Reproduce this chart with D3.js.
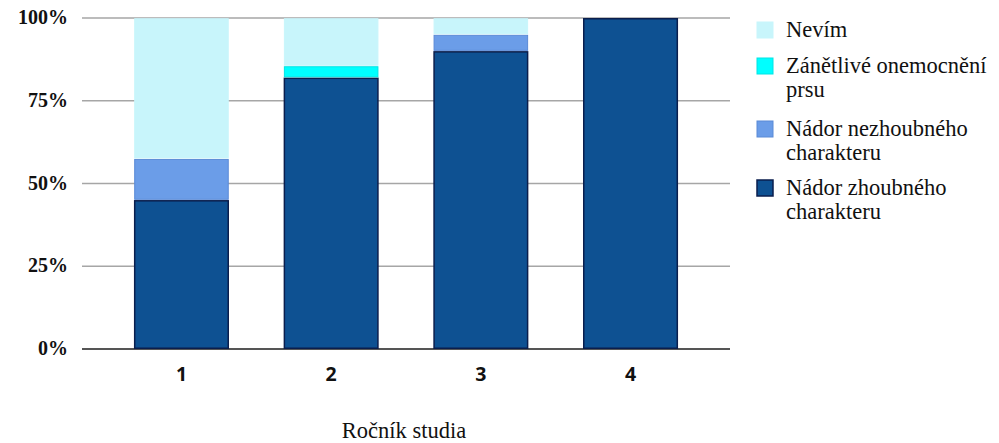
<!DOCTYPE html>
<html><head><meta charset="utf-8">
<script src="https://cdn.jsdelivr.net/npm/d3@7"></script>
<style>body{margin:0;background:#fff} .serif{font-family:"Liberation Serif","Times New Roman",Times,"DejaVu Serif",serif}</style></head>
<body><svg id="c" width="999" height="443"></svg>
<script>
const categories = ["1","2","3","4"];
const seriesNames = ["Nádor zhoubného charakteru","Nádor nezhoubného charakteru","Zánětlivé onemocnění prsu","Nevím"];
const zhoubny   = [45, 82, 90, 100];
const nezhoubny = [12.5, 0, 5, 0];
const zanetlive = [0, 3.5, 0, 0];
const nevim     = [42.5, 14.5, 5, 0];
const yTicks = [0, 25, 50, 75, 100];
const legendLines = [["Nevím"],["Zánětlivé onemocnění","prsu"],["Nádor nezhoubného","charakteru"],["Nádor zhoubného","charakteru"]];

const colors = ["#0e5192","#6b9de8","#00ffff","#c8f5fb"];
const strokes = ["#0a1e4d","#5a8ad6","#00e5e5","#c8f5fb"];

const svg = d3.select("#c");
const y = d3.scaleLinear().domain([0,100]).range([349,18]);
const x = d3.scaleBand().domain(categories).range([107,705]).paddingInner(0.365).paddingOuter(0.18);

svg.append("g").selectAll("line").data(yTicks).join("line")
  .attr("x1",82).attr("x2",730).attr("y1",d=>y(d)).attr("y2",d=>y(d))
  .attr("stroke",d=>d===0?"#555":"#a6a6a6").attr("stroke-width",d=>d===0?2:1.5);

svg.append("g").selectAll("text").data(yTicks).join("text")
  .attr("class","serif")
  .attr("x",68).attr("y",d=>y(d)+6).attr("text-anchor","end")
  .attr("font-weight","bold").attr("font-size",20)
  .attr("fill","#111").text(d=>d+"%");

const table = categories.map((c,i)=>({cat:c, s0:zhoubny[i], s1:nezhoubny[i], s2:zanetlive[i], s3:nevim[i]}));
const stack = d3.stack().keys(["s0","s1","s2","s3"])(table);

svg.append("g").selectAll("g").data(stack).join("g")
  .attr("fill",(d,i)=>colors[i]).attr("stroke",(d,i)=>strokes[i])
  .attr("stroke-width",(d,i)=>i===0?1.5:1)
  .selectAll("rect").data(d=>d.filter(p=>p[1]-p[0]>0)).join("rect")
  .attr("x",d=>x(d.data.cat)+0.75).attr("width",x.bandwidth()-1.5)
  .attr("y",d=>y(d[1])+0.75).attr("height",d=>y(d[0])-y(d[1])-1.5);

svg.append("g").selectAll("text").data(categories).join("text")
  .attr("x",d=>x(d)+x.bandwidth()/2).attr("y",381).attr("text-anchor","middle")
  .attr("font-family","Open Sans").attr("font-weight","bold").attr("font-size",19.5)
  .attr("fill","#111").text(d=>d);

svg.append("text").attr("class","serif").attr("x",404).attr("y",438).attr("text-anchor","middle")
  .attr("font-size",22.5).attr("fill","#111").text("Ročník studia");

const legY = [22, 58, 121, 180];
const leg = svg.append("g");
legendLines.forEach((lines,i)=>{
  const si = 3-i;
  leg.append("rect").attr("x",757).attr("y",legY[i]).attr("width",16).attr("height",16)
    .attr("fill",colors[si]).attr("stroke",strokes[si]).attr("stroke-width",si===0?1.5:1);
  lines.forEach((t,j)=>{
    leg.append("text").attr("class","serif").attr("x",786).attr("y",legY[i]+15+j*24)
      .attr("font-size",22.5).attr("fill","#111").text(t);
  });
});
</script></body></html>
